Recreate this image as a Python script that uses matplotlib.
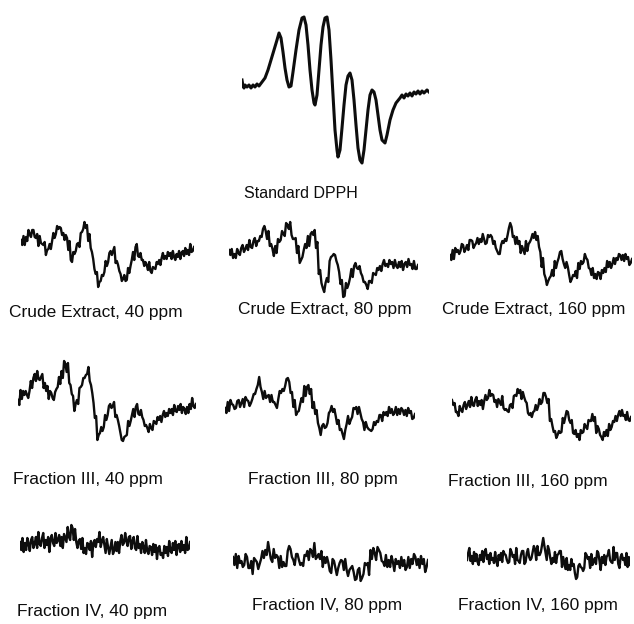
import matplotlib
matplotlib.use("Agg")
import matplotlib.pyplot as plt

# ---------------- data (EPR derivative spectra, arbitrary units) ----------------
dpph_field = [0, 1, 2, 3, 5, 7, 9, 11, 13, 15, 17, 20, 23, 26, 29, 32, 35, 37, 39, 41, 43, 45, 47, 49,
              51, 54, 57, 60, 62, 64, 66, 68, 70, 72, 73, 75, 77, 79, 81, 83, 85, 87, 89, 91, 93, 95,
              96, 98, 100, 102, 104, 106, 108, 110, 112, 114, 116, 118, 120, 122, 124, 126, 128, 130,
              132, 134, 136, 138, 140, 143, 145, 148, 151, 154, 158, 160, 162, 164, 166, 168, 170,
              172, 174, 176, 178, 180, 182, 185, 187]
dpph_signal = [8, 2, 0, 3, 1, 3, 0, 3, 1, 4, 2, 6, 10, 18, 28, 38, 48, 55, 50, 36, 20, 8, 1, 2,
               16, 38, 58, 70, 71, 63, 43, 18, -2, -15, -17, -7, 18, 43, 61, 70, 71, 58, 28, -7, -42, -62,
               -69, -62, -40, -17, 3, 12, 15, 8, -12, -37, -60, -72, -75, -62, -42, -22, -7, -2,
               -4, -12, -27, -42, -52, -55, -47, -32, -22, -15, -10, -7, -10, -6, -8, -5, -8,
               -4, -6, -3, -6, -3, -5, -2, -4]

crude_40 = [15, 10, 19, 10, 18, 14, 25, 21, 18, 25, 25, 18, 17, 21, 9, 19, 12, 11, 10, 13,
            0, 5, 6, 11, 6, 14, 22, 17, 21, 29, 26, 28, 27, 20, 22, 15, 20, 17, 5, 14,
            -5, -7, 3, 1, 4, 11, 12, 8, 22, 23, 26, 33, 27, 30, 14, 21, 7, 3, -4, -14,
            -19, -17, -32, -27, -26, -20, -21, -17, -6, -11, -7, 2, 4, 0, 4, 8, -8, -6, -10, -16,
            -19, -26, -24, -20, -26, -25, -13, -18, -11, -5, 3, -5, 8, 11, -1, -2, 2, -5, -5, -11,
            -7, -10, -15, -7, -16, -18, -12, -13, -14, -7, -9, -5, -10, -3, 2, -4, -1, -4, 3, -1,
            2, -4, 4, -2, -5, 1, -2, 4, -4, 2, 4, -1, 7, 1, 5, 0, 11, 3, 4, 8]
crude_80 = [10, 5, 11, 2, 6, 2, 11, 7, 5, 12, 15, 8, 11, 15, 10, 20, 13, 12, 19, 22,
            14, 19, 19, 24, 23, 31, 34, 29, 21, 29, 14, 16, 11, 4, 14, 7, 21, 18, 20, 29,
            26, 24, 37, 35, 31, 38, 25, 21, 21, 22, 7, 14, -3, 0, 3, 10, 16, 12, 24, 14,
            26, 28, 25, 30, 12, 18, -14, -10, -23, -28, -32, -23, -18, -22, -1, 3, 4, 6, 5, -1,
            -5, -12, -24, -20, -37, -36, -23, -28, -24, -18, -9, -17, -6, -3, -8, -9, -6, -13, -16, -22,
            -22, -25, -29, -21, -21, -23, -13, -14, -15, -8, -10, -6, -11, -4, 0, -6, -4, -7, 0, -4,
            -2, -8, 0, -6, -8, -2, -7, -1, -10, -4, -2, -7, 1, -5, -4, -9, -1, -9, -9, -5]
crude_160 = [3, -2, 8, -1, 10, 6, 8, 4, 7, 14, 13, 6, 9, 13, 8, 18, 18, 17, 10, 13,
             15, 20, 14, 19, 16, 24, 19, 14, 15, 23, 21, 23, 21, 14, 17, 10, 7, 4, 4, 13,
             17, 15, 19, 17, 23, 30, 35, 31, 21, 22, 14, 21, 14, 17, 5, 12, 8, 4, 17, 7,
             14, 16, 19, 24, 20, 26, 18, 22, 11, 6, -9, 0, -16, -20, -27, -23, -20, -18, -12, -18,
             -3, -10, -4, 0, 6, 7, -1, -6, -10, -4, -9, -17, -24, -21, -17, -18, -13, -20, -5, -11,
             -3, -6, -4, 4, 0, -2, -10, -11, -17, -10, -20, -16, -21, -14, -15, -21, -12, -15, -10, -14,
             -3, -9, -4, -10, -6, 0, -6, 0, -2, 4, 3, -2, 3, -3, 4, -1, 1, -7, -5, -1]

frac3_40 = [5, 0, 15, 6, 14, 10, 14, 10, 7, 14, 24, 17, 27, 31, 24, 34, 26, 25, 28, 31,
            17, 22, 14, 19, 6, 14, 12, 7, 5, 13, 16, 18, 28, 21, 34, 27, 44, 41, 33, 42,
            22, 20, 11, 9, -6, 1, 5, 1, 17, 18, 20, 27, 27, 30, 31, 38, 24, 20, 12, 2,
            -13, -11, -35, -30, -28, -22, -26, -22, -10, -15, -10, -1, 1, -3, -1, 3, -12, -10, -15, -21,
            -28, -35, -36, -32, -31, -30, -16, -21, -16, -10, -4, -12, -2, 1, -9, -10, -5, -12, -15, -21,
            -20, -23, -27, -19, -23, -25, -16, -17, -19, -12, -15, -11, -17, -10, -6, -12, -8, -11, -4, -8,
            -4, -10, 0, -6, -7, -1, -5, 1, -8, -2, -4, -9, -2, -8, 1, -4, 7, -1, -3, 1]
frac3_80 = [2, -3, 8, -1, 10, 6, 5, 1, 2, 9, 10, 3, 7, 11, 3, 13, 10, 9, 4, 7,
            11, 16, 16, 21, 25, 33, 23, 18, 11, 19, 12, 14, 15, 8, 15, 8, 8, 5, 2, 11,
            19, 17, 21, 19, 24, 31, 32, 28, 17, 18, 3, 10, -5, -2, -1, 6, 12, 8, 24, 14,
            23, 25, 16, 21, 2, 8, -4, 0, -13, -18, -25, -16, -14, -18, -17, -13, -3, -1, 4, -2,
            1, -6, -14, -10, -20, -19, -24, -29, -20, -14, -6, -14, -10, -7, 2, 1, 3, -4, 3, -3,
            -9, -12, -20, -12, -17, -19, -20, -21, -19, -12, -15, -11, -12, -5, -5, -11, -2, -5, -2, -6,
            3, -3, 1, -5, -3, 3, -5, 1, -4, 2, 0, -5, 0, -6, 2, -3, -1, -9, -8, -4]
frac3_160 = [15, 10, 12, 3, 3, -1, 9, 5, 3, 10, 13, 6, 10, 14, 8, 18, 10, 9, 15, 18,
             9, 14, 10, 15, 6, 14, 20, 15, 17, 25, 19, 21, 20, 13, 15, 8, 16, 13, 10, 19,
             7, 5, 6, 4, 3, 10, 11, 7, 19, 20, 19, 26, 22, 25, 16, 23, 18, 14, 12, 2,
             0, 2, -2, 3, 4, 10, 5, 9, 16, 11, 13, 22, 22, 18, 12, 16, -6, -4, -11, -17,
             -16, -23, -20, -16, -18, -17, -3, -8, -2, 4, 3, -5, -8, -5, -18, -19, -15, -22, -19, -25,
             -15, -18, -17, -9, -12, -14, -5, -6, -6, 1, -6, -2, -18, -11, -14, -20, -22, -25, -17, -21,
             -15, -21, -9, -15, -12, -6, -7, -1, -6, 0, 4, -1, 5, -1, 0, -5, 3, -5, -6, -2]

frac4_40 = [3, -5, 7, -7, 2, -5, 7, 1, -6, 5, 8, -3, 1, 8, -3, 13, 1, -1, 7, 12,
            -3, 5, 0, 8, -7, 6, 10, 2, -1, 12, 2, 5, 10, -1, 8, -3, 11, 7, 3, 18,
            8, 5, 20, 17, 5, 16, 3, -3, 4, 6, -4, 7, -8, -3, -9, 2, 1, -5, 4, -12,
            2, 5, -2, 6, 3, 13, -2, 4, 8, 0, -8, 6, -2, -9, -2, 5, -9, -6, 3, -6,
            3, -8, 4, 10, 0, 2, 12, 4, -1, 8, 9, -4, 4, 8, -3, -5, 9, -3, 1, -8,
            3, -2, -8, 5, -6, -9, -1, -2, -10, 1, -7, 0, -14, -3, -1, -10, -8, -13, -1, -8,
            -2, -11, 4, -6, -8, 2, -5, 4, -10, 0, 1, -7, 4, -5, 0, -8, 8, -5, -4, 3]
frac4_80 = [5, -3, 8, -6, 6, -1, 1, -5, -3, 8, 5, -6, -6, 1, -12, 4, 2, 0, -7, -2,
            3, 11, 4, 12, 7, 20, 11, 3, 0, 13, 4, 7, 5, -6, 6, -5, 0, -4, -4, 11,
            16, 13, 5, 2, -3, 8, 8, 2, -3, -1, -4, 7, 6, 11, 2, 13, 11, 5, 19, 3,
            5, 8, 3, 11, -5, 5, -1, 5, -1, -9, -11, 3, 1, -6, -13, -6, -1, 2, 1, -8,
            3, -8, -14, -8, -6, -4, -10, -18, -17, -8, -6, -19, -16, -12, -1, -3, -1, -13, 12, 3,
            14, 9, 2, 15, 12, 9, 1, 0, -4, 7, -5, 2, -5, 6, 0, -9, 3, -2, 1, -6,
            5, -4, 2, -8, -5, 5, -6, 3, -2, 8, 5, -3, 3, -6, 6, -2, 3, -10, -5, 2]
frac4_160 = [0, 7, 12, -1, 4, -4, 8, -1, 6, -2, -5, 5, 0, 9, -2, 8, 11, 1, 5, -4,
             7, 0, 2, -3, 8, -1, -6, 5, 0, 7, -2, 9, 6, 5, 0, -3, -2, 11, 8, 3,
             5, -4, 12, 0, -1, -3, 5, 9, 9, -4, -2, 7, 11, 3, 0, 2, 8, 14, 11, 0,
             14, 5, 5, 8, 15, 22, 14, 7, 0, 14, 10, 2, -4, 2, -2, 8, -3, 5, 6, 9,
             9, -7, 3, -3, -9, 2, -10, -5, -10, 1, -6, -4, -13, -19, -17, -6, -4, -7, -8, -11,
             -8, 7, 5, 1, 3, -8, 6, -5, -1, 2, -4, 9, 7, -1, -10, 3, -3, 5, -5, 3,
             5, 10, 0, -2, -3, 13, 0, 7, 7, -4, -8, 3, 6, 0, 2, -5, 7, -7, 3, -5]

labels = ["Standard DPPH",
          "Crude Extract, 40 ppm", "Crude Extract, 80 ppm", "Crude Extract, 160 ppm",
          "Fraction III, 40 ppm", "Fraction III, 80 ppm", "Fraction III, 160 ppm",
          "Fraction IV, 40 ppm", "Fraction IV, 80 ppm", "Fraction IV, 160 ppm"]

# ---------------- layout (pixels) ----------------
W, H = 634, 624
fig = plt.figure(figsize=(W / 100, H / 100), dpi=100)
fig.patch.set_facecolor("white")

HALF = 90  # half height of each panel box in signal units (1 unit = 1 px)


def panel(x0, x1, yc, xs, ys, lw):
    ax = fig.add_axes([x0 / W, 1 - (yc + HALF) / H, (x1 - x0) / W, 2 * HALF / H])
    ax.plot(xs, ys, color="#0d0d0d", lw=lw, solid_joinstyle="round")
    ax.set_xlim(xs[0], xs[-1])
    ax.set_ylim(-HALF, HALF)
    ax.axis("off")
    ax.patch.set_alpha(0)
    return ax


def idx(a):
    return list(range(len(a)))


panel(242, 429, 88, dpph_field, dpph_signal, 2.2)

noisy = [
    (21, 194, 255, crude_40), (229, 418, 260, crude_80), (450, 632, 258, crude_160),
    (18, 196, 405, frac3_40), (225, 415, 410, frac3_80), (452, 631, 415, frac3_160),
    (20, 190, 545, frac4_40), (233, 428, 562, frac4_80), (467, 630, 560, frac4_160),
]
for x0, x1, yc, ys in noisy:
    panel(x0, x1, yc, idx(ys), ys, 1.7)

# ---------------- labels ----------------
label_pos = [(301, 198), (96, 317), (325, 314), (534, 314),
             (88, 484), (323, 484), (528, 486),
             (92, 616), (327, 610), (538, 610)]
for i, (txt, (lx, ly)) in enumerate(zip(labels, label_pos)):
    fs = 11.5 if i == 0 else 12.5
    fig.text(lx / W, 1 - ly / H, txt, ha="center", va="baseline",
             fontsize=fs, family=["Liberation Sans", "DejaVu Sans"], color="#0d0d0d")

fig.savefig("out.png", dpi=100, facecolor="white")
